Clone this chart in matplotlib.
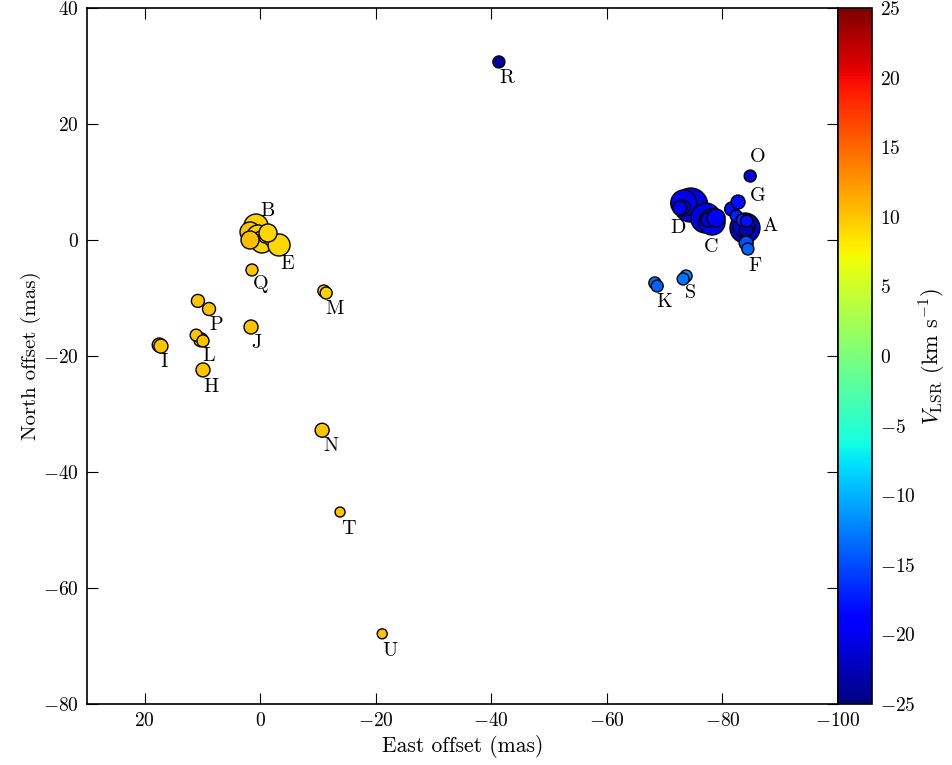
import matplotlib
matplotlib.use("Agg")
import matplotlib.pyplot as plt
import numpy as np

plt.rcParams['font.family'] = 'serif'
plt.rcParams['font.serif'] = ['cmr10', 'DejaVu Serif']
plt.rcParams['mathtext.fontset'] = 'cm'
plt.rcParams['axes.formatter.use_mathtext'] = True
plt.rcParams['axes.unicode_minus'] = True

# Spot positions (mas), velocities (km/s), relative flux (marker size scale)
east = [0.74, 1.78, 0.40, -0.29, 1.78, -0.81, -2.03, -3.24, -1.33,
        -83.9, -83.7, -84.1, -81.6, -82.7, -82.4, -83.4, -84.2, -84.1, -84.4,
        -74.5, -73.3, -73.2, -72.6,
        -77.1, -78.2, -77.5, -78.9,
        -68.3, -68.7, -73.7, -73.2,
        -41.3, -84.8, 1.44, -11.0, -11.4, 1.61, 8.88, 10.8,
        10.3, 11.1, 9.92, 17.5, 17.2, 9.92, -10.7, -13.8, -21.1]
north = [2.41, 1.38, 0.69, -0.34, 0.0, 0.52, 0.0, -0.86, 1.21,
         2.07, 2.41, 1.72, 5.34, 6.55, 4.14, 3.45, 3.28, -0.52, -1.55,
         6.03, 6.38, 5.69, 5.52,
         3.79, 3.10, 3.45, 3.79,
         -7.41, -7.93, -6.21, -6.72,
         30.7, 11.03, -5.17, -8.79, -9.14, -15.0, -11.9, -10.5,
         -17.2, -16.4, -17.4, -18.1, -18.3, -22.4, -32.8, -46.9, -67.9]
vlsr = [9.5, 10.0, 9.5, 9.0, 10.5, 8.5, 9.0, 9.0, 9.0,
        -22.0, -21.0, -23.0, -18.0, -18.0, -17.0, -17.0, -18.0, -15.0, -14.0,
        -21.0, -20.0, -21.0, -20.0,
        -21.0, -20.0, -21.0, -20.0,
        -13.0, -14.0, -12.0, -13.0,
        -24.0, -21.0, 10.0, 9.5, 9.5, 10.0, 10.0, 10.0,
        10.0, 10.0, 10.0, 9.5, 10.0, 10.0, 10.0, 10.0, 10.0]
flux = [24, 20, 22, 22, 18, 12, 14, 22, 18,
        30, 22, 14, 14, 14, 12, 12, 12, 14, 12,
        34, 26, 14, 14,
        30, 26, 14, 18,
        12, 12, 12, 12,
        12, 12, 12, 12, 12, 14, 13, 13,
        14, 12, 12, 14, 14, 14, 14, 10, 10]

labels = ['R', 'O', 'G', 'A', 'D', 'C', 'F', 'K', 'S', 'B', 'E', 'Q', 'M',
          'J', 'P', 'L', 'I', 'H', 'N', 'T', 'U']
label_east = [-42.7, -86.1, -86.1, -88.2, -72.3, -78.0, -85.6, -70.0, -74.4,
              -1.3, -4.6, -0.1, -12.9, 0.6, 7.7, 9.0, 16.7, 8.5, -12.2, -15.2, -22.5]
label_north = [27.9, 14.3, 7.6, 2.4, 2.1, -1.2, -4.5, -10.7, -9.1,
               5.0, -4.1, -7.6, -11.9, -17.8, -14.7, -20.0, -21.0, -25.3, -35.5, -49.8, -70.9]

W, H = 952, 765
fig = plt.figure(figsize=(W / 100, H / 100), dpi=100)
ax = fig.add_axes([87 / W, 61 / H, 751 / W, 696 / H])
cax = fig.add_axes([838 / W, 61 / H, 34 / W, 696 / H])

sizes = (0.72 * np.array(flux)) ** 2
sc = ax.scatter(east, north, s=sizes, c=vlsr, cmap='jet', vmin=-25, vmax=25,
                edgecolors='black', linewidths=1.0, zorder=3)

for lab, lx, ly in zip(labels, label_east, label_north):
    ax.text(lx, ly, lab, fontsize=14.5, ha='center', va='center', zorder=4)

ax.set_xlim(30, -100)
ax.set_ylim(-80, 40)
ax.set_xticks([20, 0, -20, -40, -60, -80, -100])
ax.set_yticks([-80, -60, -40, -20, 0, 20, 40])
ax.set_xlabel('East offset (mas)', fontsize=15.5, labelpad=3)
ax.set_ylabel('North offset (mas)', fontsize=15, labelpad=1)
ax.tick_params(direction='in', length=8, width=0.8, top=True, right=True, labelsize=14, pad=6)
for sp in ax.spines.values():
    sp.set_linewidth(1.2)

cb = fig.colorbar(sc, cax=cax)
cb.set_ticks(np.arange(-25, 26, 5))
cb.ax.tick_params(direction='in', length=0, labelsize=14, pad=6)
cb.set_label(r'$V_{\rm LSR}$ (km s$^{-1}$)', fontsize=16, labelpad=1)
cb.outline.set_linewidth(1.2)

fig.savefig('out.png', dpi=100)
